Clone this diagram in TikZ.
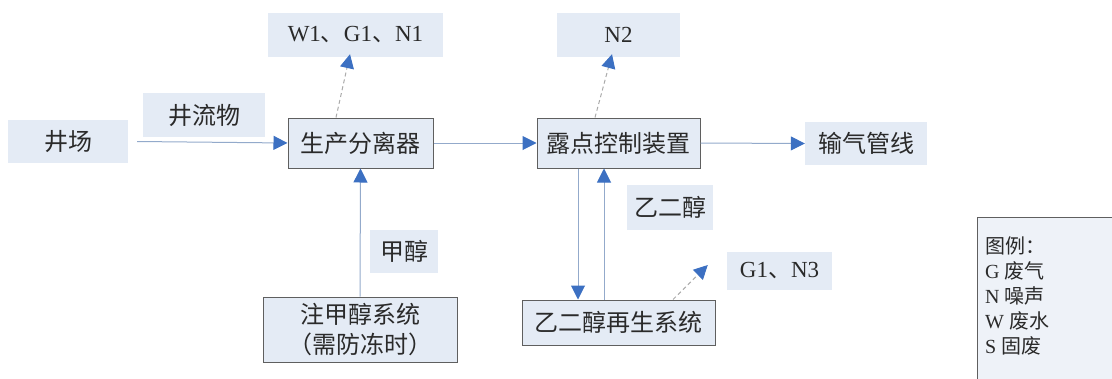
\documentclass[tikz,border=0pt]{standalone}
\usepackage{fontspec}
\setmainfont{Liberation Serif}
\newfontfamily\cjk{Noto Sans CJK SC}
\usetikzlibrary{arrows.meta}
\definecolor{boxfill}{HTML}{E4EBF5}
\definecolor{legfill}{HTML}{EEF2F8}
\definecolor{boxline}{HTML}{5F5F5F}
\definecolor{flowline}{HTML}{93AACB}
\definecolor{tipblue}{HTML}{3C70C2}
\definecolor{dashgray}{HTML}{AAAAAA}
\definecolor{txt}{HTML}{2A2A2A}
\tikzset{
  lbl/.style={fill=boxfill, inner sep=0pt, text=txt, font=\cjk\fontsize{24}{28}\selectfont},
  proc/.style={lbl, draw=boxline, line width=1pt},
  flow/.style={draw=flowline, line width=1pt, -{Triangle[length=14pt,width=14pt,color=tipblue]}},
  emit/.style={draw=dashgray, line width=1pt, dash pattern=on 4pt off 3pt, -{Triangle[length=14pt,width=14pt,color=tipblue]}},
}
\begin{document}
\begin{tikzpicture}[x=1pt,y=-1pt]
\useasboundingbox (0,0) rectangle (1112,378);
\clip (0,0) rectangle (1112,378);
% nodes
\node[lbl, minimum width=120pt, minimum height=43pt] (jc) at (68,141.5) {井场};
\node[lbl, minimum width=122pt, minimum height=44pt] (jlw) at (204,115) {井流物};
\node[proc, minimum width=145pt, minimum height=50pt] (sep) at (360.5,143) {生产分离器};
\node[lbl, minimum width=175pt, minimum height=44pt, font=\fontsize{23}{27}\selectfont] (w1) at (355.5,35) {W1{\cjk 、}G1{\cjk 、}N1};
\node[lbl, minimum width=123pt, minimum height=44pt, font=\fontsize{23}{27}\selectfont] (n2) at (618.5,35) {N2};
\node[proc, minimum width=163pt, minimum height=50pt] (dew) at (618.5,143) {露点控制装置};
\node[lbl, minimum width=122pt, minimum height=43pt] (gas) at (866,143.5) {输气管线};
\node[lbl, minimum width=86pt, minimum height=45pt] (eg) at (670,207.5) {乙二醇};
\node[proc, minimum width=193pt, minimum height=45pt] (regen) at (618.5,322.5) {乙二醇再生系统};
\node[lbl, minimum width=105pt, minimum height=38pt, font=\fontsize{23}{27}\selectfont] (g1n3) at (779.5,271) {G1{\cjk 、}N3};
\node[lbl, minimum width=68pt, minimum height=43pt] (meoh) at (404,251.5) {甲醇};
\node[proc, minimum width=194pt, minimum height=65pt, align=center, font=\cjk\fontsize{24}{30}\selectfont] (inj) at (360,329.5) {注甲醇系统\\（需防冻时）};
% legend
\draw[fill=legfill, draw=boxline, line width=0.8pt] (977,217) rectangle (1125,390);
\node[anchor=west, inner sep=0pt, text=txt, align=left, font=\fontsize{20}{25}\selectfont] (leg) at (985,296) {{\cjk 图例：}\\G {\cjk 废气}\\N {\cjk 噪声}\\W {\cjk 废水}\\S {\cjk 固废}};
% connectors
\draw[flow] ([xshift=9pt]jc.east) -- (sep.west);
\draw[flow] (sep.east) -- (dew.west);
\draw[flow] (dew.east) -- (gas.west);
\draw[flow] (inj.north) -- (sep.south);
\draw[flow] ([xshift=-40.5pt]dew.south) -- ([xshift=-40.5pt]regen.north);
\draw[flow] ([xshift=-14.5pt]regen.north) -- ([xshift=-14.5pt]dew.south);
\draw[emit] ([xshift=-24.5pt]sep.north) -- ([xshift=-5.5pt,yshift=3pt]w1.south);
\draw[emit] ([xshift=-23.5pt]dew.north) -- ([xshift=-6.5pt,yshift=3pt]n2.south);
\draw[emit] ([xshift=54.5pt]regen.north) -- ([xshift=-19pt,yshift=6pt]g1n3.west);
\end{tikzpicture}
\end{document}
